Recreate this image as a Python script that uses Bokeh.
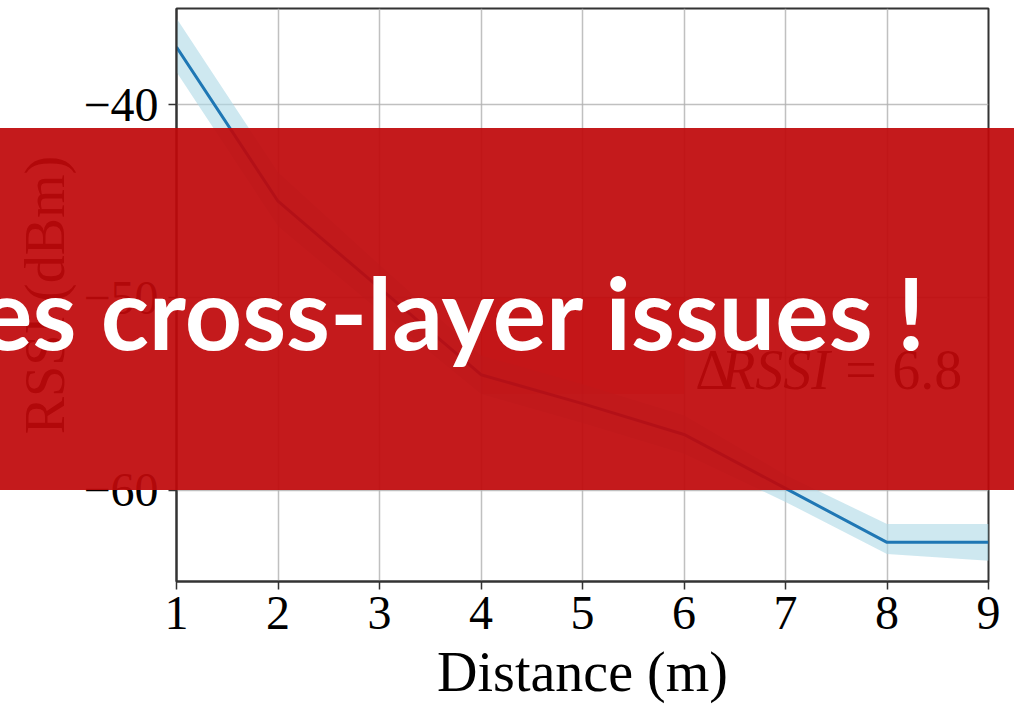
from bokeh.plotting import figure
from bokeh.models import Label, FixedTicker, Range1d, Div
from bokeh.embed import file_html
from bokeh.resources import INLINE

# ---- data ----
distance = [1, 2, 3, 4, 5, 6, 7, 8, 9]
rssi_mean = [-37.0, -45.0, -49.5, -54.0, -55.5, -57.1, -59.9, -62.7, -62.7]
rssi_upper = [-35.5, -43.5, -48.3, -53.0, -54.5, -56.1, -59.2, -61.75, -61.75]
rssi_lower = [-38.3, -46.3, -50.7, -55.0, -56.5, -58.1, -60.6, -63.3, -63.65]

x_ticks = [1, 2, 3, 4, 5, 6, 7, 8, 9]
y_ticks = [-60, -50, -40]
y_tick_labels = ["\u221260", "\u221250", "\u221240"]

x_label = "Distance (m)"
y_label = "RSSI (dBm)"

delta_parts = ["\u0394", "RSSI", "=", "6.8"]
banner_text = "es cross-layer issues !"

highlight_left = [4]
highlight_right = [6]
highlight_bottom = [-55.0]
highlight_top = [-50.0]

SERIF = "Liberation Serif"
W, H = 1014, 705

p = figure(width=W, height=H, title=None,
           x_range=Range1d(1, 9), y_range=Range1d(-64.73, -35.0),
           output_backend="svg", toolbar_location=None,
           min_border_left=176, min_border_right=W - 988,
           min_border_top=8, min_border_bottom=H - 586)

p.background_fill_color = "white"
p.border_fill_color = "white"
p.outline_line_color = "#333333"
p.outline_line_width = 2

# highlighted region of the original chart
p.quad(left=highlight_left, right=highlight_right, bottom=highlight_bottom, top=highlight_top,
       fill_color="#ff0000", fill_alpha=0.25, line_alpha=0)

# band and mean line
p.varea(x=distance, y1=rssi_lower, y2=rssi_upper, fill_color="#ADD8E6", fill_alpha=0.6)
p.line(distance, rssi_mean, line_color="#1f77b4", line_width=3)

# grid
p.grid.grid_line_color = "#b0b0b0"
p.grid.grid_line_width = 1.5
p.grid.grid_line_alpha = 0.8

# axes
p.xaxis.ticker = FixedTicker(ticks=x_ticks)
p.yaxis.ticker = FixedTicker(ticks=y_ticks)
p.yaxis.major_label_overrides = {t: l for t, l in zip(y_ticks, y_tick_labels)}
for ax in (p.xaxis, p.yaxis):
    ax.axis_line_color = "#333333"
    ax.axis_line_width = 2
    ax.major_tick_line_color = "#333333"
    ax.major_tick_line_width = 1.5
    ax.major_tick_out = 8
    ax.major_tick_in = 0
    ax.minor_tick_line_color = None
    ax.major_label_text_font = SERIF
    ax.major_label_text_font_size = "48px"
    ax.major_label_text_color = "black"
    ax.axis_label_text_font = SERIF
    ax.axis_label_text_font_size = "56px"
    ax.axis_label_text_font_style = "normal"
    ax.axis_label_text_color = "black"

p.xaxis.axis_label = x_label
p.yaxis.axis_label = y_label
p.xaxis.major_label_standoff = 7
p.xaxis.axis_label_standoff = 9
p.yaxis.major_label_standoff = 10
p.yaxis.axis_label_standoff = 4

# Delta RSSI annotation (under the banner)
for txt, off, style in zip(delta_parts, [0, 26, 150, 197], ["normal", "italic", "normal", "normal"]):
    p.add_layout(Label(x=6.11, y=-53.78, x_offset=off, text=txt, text_font=SERIF,
                       text_font_style=style, text_font_size="56px",
                       text_color="black", text_baseline="alphabetic"))

# ---- red banner overlay: an HTML block laid over the chart ----
BANNER_TOP, BANNER_H = 128, 362
FONT_CSS = "font-family:Lato;font-weight:bold;font-size:100px;color:white;"
banner = Div(
    text=(f'<div style="position:absolute;right:89px;top:4px;line-height:359px;'
          f'white-space:nowrap;{FONT_CSS}">{banner_text}</div>'),
    width=W, height=BANNER_H,
    margin=(BANNER_TOP - H, 0, 0, 0),
    styles={"position": "relative", "z-index": "10",
            "background-color": "rgba(192, 9, 11, 0.93)",
            "overflow": "hidden"},
)

open("out.html", "w").write(file_html([p, banner], INLINE))
